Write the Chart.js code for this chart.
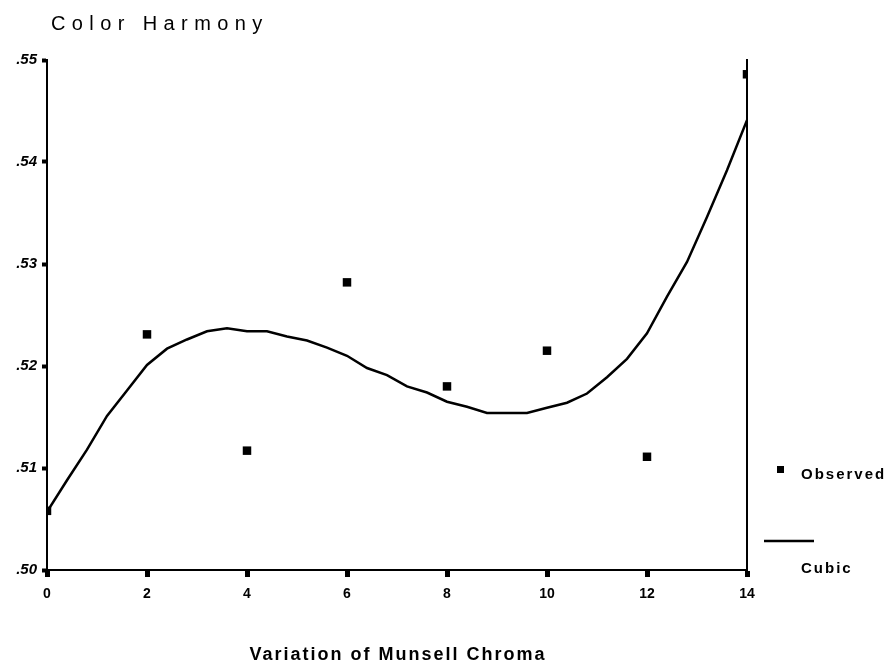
<!DOCTYPE html>
<html>
<head>
<meta charset="utf-8">
<script src="https://cdn.jsdelivr.net/npm/chart.js@4"></script>
<style>
  html, body { margin: 0; padding: 0; background: #ffffff; }
  canvas { display: block; }
</style>
</head>
<body>
<canvas id="chart" width="888" height="667"></canvas>
<script>
(function () {
  var TITLE = "Color Harmony";
  var X_TITLE = "Variation of Munsell Chroma";

  var chromaObserved = [0, 2, 4, 6, 8, 10, 12, 14];
  var harmonyObserved = [0.5058, 0.5231, 0.5117, 0.5282, 0.5180, 0.5215, 0.5111, 0.5486];

  var chromaCubic = [0, 0.4, 0.8, 1.2, 1.6, 2, 2.4, 2.8, 3.2, 3.6, 4, 4.4, 4.8, 5.2, 5.6, 6,
    6.4, 6.8, 7.2, 7.6, 8, 8.4, 8.8, 9.2, 9.6, 10, 10.4, 10.8, 11.2, 11.6, 12, 12.4, 12.8,
    13.2, 13.6, 14];
  var harmonyCubic = [0.5057, 0.5088, 0.5118, 0.5151, 0.5176, 0.5201, 0.5217, 0.5226, 0.5234,
    0.5237, 0.5234, 0.5234, 0.5229, 0.5225, 0.5218, 0.5210, 0.5198, 0.5191, 0.5180, 0.5174,
    0.5165, 0.5160, 0.5154, 0.5154, 0.5154, 0.5159, 0.5164, 0.5173, 0.5189, 0.5207, 0.5232,
    0.5268, 0.5302, 0.5346, 0.5392, 0.5441];

  var yTickLabels = [".50", ".51", ".52", ".53", ".54", ".55"];
  var xTickLabels = ["0", "2", "4", "6", "8", "10", "12", "14"];

  var FONT = '"Liberation Sans", Arial, sans-serif';

  function pairs(xs, ys) {
    return xs.map(function (x, i) {
      return { x: x, y: ys[i] };
    });
  }

  var textPlugin = {
    id: "texts",
    afterDraw: function (chart) {
      var ctx = chart.ctx;
      var area = chart.chartArea;
      ctx.save();
      ctx.fillStyle = "#000000";
      ctx.textBaseline = "alphabetic";

      ctx.letterSpacing = "6.4px";
      ctx.font = "20px " + FONT;
      ctx.textAlign = "left";
      ctx.fillText(TITLE, 51, 30);

      ctx.letterSpacing = "2px";
      ctx.font = "bold 18px " + FONT;
      ctx.textAlign = "center";
      ctx.fillText(X_TITLE, (area.left + area.right) / 2 + 1, 660);

      // legend
      ctx.textAlign = "left";
      ctx.font = "bold 15px " + FONT;
      ctx.fillRect(777, 466, 7, 7);
      ctx.fillText("Observed", 801, 479);
      ctx.beginPath();
      ctx.lineWidth = 2.5;
      ctx.strokeStyle = "#000000";
      ctx.moveTo(764, 541);
      ctx.lineTo(814, 541);
      ctx.stroke();
      ctx.fillText("Cubic", 801, 573);
      ctx.restore();
    }
  };

  new Chart(document.getElementById("chart"), {
    type: "scatter",
    data: {
      datasets: [{
        label: "Observed",
        data: pairs(chromaObserved, harmonyObserved),
        showLine: false,
        pointStyle: "rect",
        pointRadius: 6,
        pointBorderWidth: 0,
        backgroundColor: "#000000",
        borderColor: "#000000"
      }, {
        label: "Cubic",
        data: pairs(chromaCubic, harmonyCubic),
        showLine: true,
        pointRadius: 0,
        borderWidth: 2.5,
        borderColor: "#000000",
        backgroundColor: "#000000",
        tension: 0
      }]
    },
    options: {
      responsive: false,
      animation: false,
      layout: { padding: { left: 0, right: 141, top: 60, bottom: 67 } },
      plugins: {
        legend: { display: false },
        title: { display: false },
        tooltip: { enabled: false }
      },
      scales: {
        x: {
          type: "linear",
          min: 0,
          max: 14,
          afterFit: function (scale) { scale.height = 30; },
          border: { color: "#000000", width: 2 },
          grid: { drawOnChartArea: false, drawTicks: true, tickLength: 7, tickWidth: 5, color: "#000000" },
          ticks: {
            stepSize: 2,
            padding: 9,
            color: "#000000",
            font: { family: FONT, size: 14, weight: "bold" },
            callback: function (value, index) { return xTickLabels[index]; }
          }
        },
        y: {
          type: "linear",
          min: 0.5,
          max: 0.55,
          afterFit: function (scale) { scale.width = 47; },
          border: { color: "#000000", width: 2 },
          grid: { drawOnChartArea: false, drawTicks: true, tickLength: 5, tickWidth: 4, color: "#000000" },
          ticks: {
            stepSize: 0.01,
            padding: 5,
            color: "#000000",
            font: { family: FONT, size: 15, weight: "bold", style: "italic" },
            callback: function (value, index) { return yTickLabels[index]; }
          }
        },
        right: {
          type: "linear",
          position: "right",
          min: 0.5,
          max: 0.55,
          afterFit: function (scale) { scale.width = 0; },
          border: { color: "#000000", width: 2 },
          grid: { drawOnChartArea: false, drawTicks: false },
          ticks: { display: false }
        }
      }
    },
    plugins: [textPlugin]
  });
})();
</script>
</body>
</html>
